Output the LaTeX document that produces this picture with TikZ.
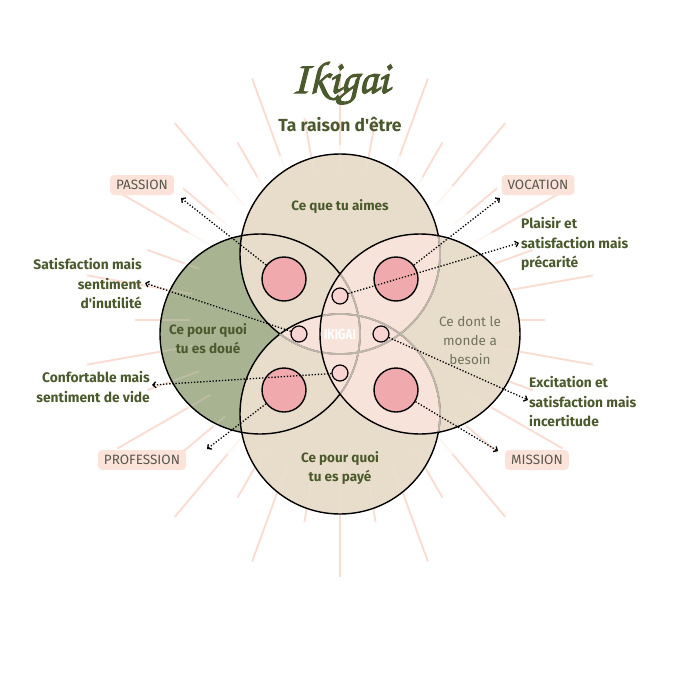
\documentclass[tikz,border=0pt]{standalone}
\usepackage{fontspec}
\setmainfont{Fira Sans}[Ligatures=TeXOff]
\newfontfamily\ikifont{Fira Sans}[FakeStretch=0.8]
\newfontfamily\chorus{texgyrechorus-mediumitalic.otf}[FakeBold=2.2]
\usetikzlibrary{arrows.meta}
\definecolor{beige}{HTML}{E8DDCB}
\definecolor{sage}{HTML}{A8B392}
\definecolor{lpink}{HTML}{F8E3DA}
\definecolor{rose}{HTML}{F0AAAD}
\definecolor{spink}{HTML}{F9D3D2}
\definecolor{raycol}{HTML}{FADDD2}
\definecolor{olive}{HTML}{4A5A2C}
\definecolor{taggray}{HTML}{58584E}
\definecolor{tagbg}{HTML}{FCE3DA}
\definecolor{softtxt}{HTML}{72735A}
\definecolor{ghost}{HTML}{BFB6AB}
\begin{document}
\begin{tikzpicture}[x=1pt,y=-1pt,
  ray/.style={draw=raycol, line width=1.8pt},
  bigc/.style={circle, draw=black, line width=1.4pt, fill=rose, minimum size=44pt, inner sep=0pt},
  smallc/.style={circle, draw=black, line width=1.2pt, fill=spink, minimum size=16pt, inner sep=0pt},
  arr/.style={line width=1.3pt, dash pattern=on 1.3pt off 1.8pt, -{Straight Barb[length=3pt,width=6pt]}},
  tag/.style={fill=tagbg, rounded corners=4pt, text=taggray, font=\fontsize{13.5}{13.5}\selectfont, minimum height=20pt, inner xsep=6pt, inner ysep=0pt},
  lbl/.style={text=olive, font=\bfseries\fontsize{13.8}{19.5}\selectfont, inner sep=0pt},
  inlbl/.style={text=olive, font=\bfseries\fontsize{13.5}{19}\selectfont, inner sep=0pt, align=center},
  outline/.style={draw=black, line width=1.4pt},
  ghostline/.style={draw=ghost, line width=1.8pt}]
\useasboundingbox (0,0) rectangle (680,680);
\fill[white] (0,0) rectangle (680,680);
\coordinate (sc) at (340,320);
\begin{scope}[shift={(sc)}]
  \foreach \a in {90,110,...,430} \draw[ray] (\a:175pt) -- (\a:257pt);
  \foreach \a in {80,100,...,420} \draw[ray] (\a:165pt) -- (\a:205pt);
\end{scope}
\coordinate (cT) at (340,254);
\coordinate (cB) at (340,414);
\coordinate (cL) at (260,334);
\coordinate (cR) at (420,334);
\fill[sage] (cL) circle (100pt);
\fill[beige] (cT) circle (100pt);
\fill[beige] (cB) circle (100pt);
\fill[beige] (cR) circle (100pt);
\begin{scope}
  \clip (cR) circle (100pt);
  \fill[lpink] (cT) circle (100pt);
  \fill[lpink] (cB) circle (100pt);
\end{scope}
\begin{scope}
  \clip (cT) circle (100pt);
  \fill[lpink] (cB) circle (100pt);
\end{scope}
\begin{scope}[opacity=0.25, shift={(sc)}]
  \foreach \a in {90,110,...,430} \draw[ray] (\a:150pt) -- (\a:257pt);
  \foreach \a in {80,100,...,420} \draw[ray] (\a:150pt) -- (\a:205pt);
\end{scope}
\draw[outline] (cL) circle (100pt);
\draw[outline] (cT) circle (100pt);
\draw[outline] (cB) circle (100pt);
\begin{scope}
  \clip (cR) circle (100pt);
  \draw[ghostline] (cL) circle (100pt);
  \draw[ghostline] (cT) circle (100pt);
  \draw[ghostline] (cB) circle (100pt);
\end{scope}
\begin{scope}
  \clip (cB) circle (100pt);
  \draw[ghostline] (cT) circle (100pt);
\end{scope}
\draw[outline] (cR) circle (100pt);
% pink circles
\node[bigc] (pTL) at (284,279) {};
\node[bigc] (pTR) at (396,279) {};
\node[bigc] (pBL) at (284,390) {};
\node[bigc] (pBR) at (396,390) {};
\node[smallc] (sT) at (340,296) {};
\node[smallc] (sL) at (299,334) {};
\node[smallc] (sR) at (381,334) {};
\node[smallc] (sB) at (340,373) {};
\node[text=white, font=\ikifont\bfseries\fontsize{14.5}{14.5}\selectfont, inner sep=0pt] (ik) at (340,334) {IKIGAI};
% arrow ends
\coordinate (e1) at (181,198);
\coordinate (e2) at (500,198);
\coordinate (e3) at (519,243);
\coordinate (e4) at (145,283);
\coordinate (e5) at (152,385);
\coordinate (e6) at (207,449);
\coordinate (e7) at (528,400);
\coordinate (e8) at (498,451);
\draw[arr] (pTL) -- (e1);
\draw[arr] (pTR) -- (e2);
\draw[arr] (sT) -- (e3);
\draw[arr] (sL) -- (e4);
\draw[arr] (sB) -- (e5);
\draw[arr] (pBL) -- (e6);
\draw[arr] (sR) -- (e7);
\draw[arr] (pBR) -- (e8);
% titles
\node[anchor=base, text=olive, inner sep=0pt, font=\chorus\fontsize{46}{46}\selectfont] (title) at (340,93) {Ikigai};
\node[anchor=base, text=olive, inner sep=0pt, font=\bfseries\fontsize{17.5}{17.5}\selectfont] (sub) at (340,131) {Ta raison d'être};
% tags
\node[tag] (passion) at (142,185) {PASSION};
\node[tag] (vocation) at (538,185) {VOCATION};
\node[tag] (profession) at (142,460) {PROFESSION};
\node[tag] (mission) at (537,460) {MISSION};
% inner labels
\node[inlbl] (aimes) at (340,207) {Ce que tu aimes};
\node[inlbl] (doue) at (208,339) {Ce pour quoi\\tu es doué};
\node[inlbl] (paye) at (340,468) {Ce pour quoi\\tu es payé};
\node[inlbl, text=softtxt, font=\fontsize{13.5}{19}\selectfont] (besoin) at (470,341) {Ce dont le\\monde a\\besoin};
% outer labels
\node[lbl, anchor=east, align=right] (inutile) at (142,284) {Satisfaction mais\\sentiment\\d'inutilité};
\node[lbl, anchor=east, align=right] (vide) at (150,387) {Confortable mais\\sentiment de vide};
\node[lbl, anchor=west, align=left] (precaire) at (521,244) {Plaisir et\\satisfaction mais\\précarité};
\node[lbl, anchor=west, align=left] (incert) at (529,402) {Excitation et\\satisfaction mais\\incertitude};
\end{tikzpicture}
\end{document}
